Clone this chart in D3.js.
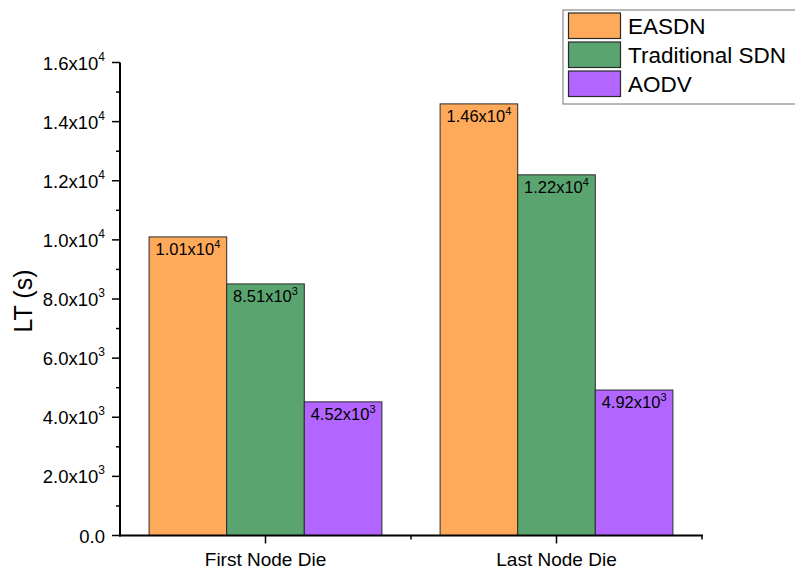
<!DOCTYPE html>
<html>
<head>
<meta charset="utf-8">
<script src="https://cdn.jsdelivr.net/npm/d3@7"></script>
<style>
  body { margin: 0; background: #fff; }
  svg { display: block; font-family: "Liberation Sans", Arial, sans-serif; }
</style>
</head>
<body>
<svg id="chart" width="795" height="570"></svg>
<script>
const categories = ["First Node Die", "Last Node Die"];
const seriesNames = ["EASDN", "Traditional SDN", "AODV"];
const seriesColors = ["#FFAA5A", "#5AA470", "#B266FF"];
const easdn = [10100, 14600];
const traditionalSdn = [8510, 12200];
const aodv = [4520, 4920];
const barLabels = [
  [["1.01x10", "4"], ["1.46x10", "4"]],
  [["8.51x10", "3"], ["1.22x10", "4"]],
  [["4.52x10", "3"], ["4.92x10", "3"]]
];
const yTickValues = [0, 2000, 4000, 6000, 8000, 10000, 12000, 14000, 16000];
const yTickLabels = [["0.0", ""], ["2.0x10", "3"], ["4.0x10", "3"], ["6.0x10", "3"], ["8.0x10", "3"],
  ["1.0x10", "4"], ["1.2x10", "4"], ["1.4x10", "4"], ["1.6x10", "4"]];
const yMinorTicks = [1000, 3000, 5000, 7000, 9000, 11000, 13000, 15000];
const yTitle = "LT (s)";

(function () {
const series = [easdn, traditionalSdn, aodv];
const svg = d3.select("#chart");
const pL = 120, pR = 702, pT = 62.5, pB = 535.5;

const y = d3.scaleLinear().domain([0, 16000]).range([pB, pT]);
const x0 = d3.scaleBand().domain(categories).range([pL, pR]).paddingInner(0.2).paddingOuter(0.1);
const x1 = d3.scaleBand().domain(seriesNames).range([0, x0.bandwidth()]);

// bars
categories.forEach((cat, ci) => {
  const g = svg.append("g");
  seriesNames.forEach((s, si) => {
    const v = series[si][ci];
    const bx = x0(cat) + x1(s);
    g.append("rect")
      .attr("x", bx).attr("y", y(v))
      .attr("width", x1.bandwidth()).attr("height", y(0) - y(v))
      .attr("fill", seriesColors[si]).attr("stroke", "#2a2a2a").attr("stroke-width", 1);
    const t = g.append("text")
      .attr("x", bx + x1.bandwidth() / 2).attr("y", y(v) + 18)
      .attr("text-anchor", "middle").attr("font-size", 16.5).attr("fill", "#000");
    t.append("tspan").text(barLabels[si][ci][0]);
    t.append("tspan").attr("dy", -7).attr("font-size", 11).text(barLabels[si][ci][1]);
  });
});

// y axis
const yAxis = svg.append("g");
yAxis.append("line").attr("x1", pL).attr("x2", pL).attr("y1", pT).attr("y2", pB + 1)
  .attr("stroke", "#000").attr("stroke-width", 2);
yTickValues.forEach((v, i) => {
  yAxis.append("line").attr("x1", pL - 8).attr("x2", pL).attr("y1", y(v)).attr("y2", y(v))
    .attr("stroke", "#000").attr("stroke-width", 1.5);
  const t = yAxis.append("text").attr("x", 105).attr("y", y(v) + 7)
    .attr("text-anchor", "end").attr("font-size", 18.5).attr("fill", "#000");
  t.append("tspan").text(yTickLabels[i][0]);
  if (yTickLabels[i][1]) t.append("tspan").attr("dy", -9).attr("font-size", 12).text(yTickLabels[i][1]);
});
yMinorTicks.forEach(v => {
  yAxis.append("line").attr("x1", pL - 4).attr("x2", pL).attr("y1", y(v)).attr("y2", y(v))
    .attr("stroke", "#000").attr("stroke-width", 1.5);
});
svg.append("text").attr("transform", `translate(32,${(pT + pB) / 2 + 2}) rotate(-90)`)
  .attr("text-anchor", "middle").attr("font-size", 25).attr("fill", "#000").text(yTitle);

// x axis
const xAxis = svg.append("g");
xAxis.append("line").attr("x1", pL - 1).attr("x2", pR + 1).attr("y1", pB).attr("y2", pB)
  .attr("stroke", "#000").attr("stroke-width", 2);
categories.forEach(cat => {
  const cx = x0(cat) + x0.bandwidth() / 2;
  xAxis.append("line").attr("x1", cx).attr("x2", cx).attr("y1", pB).attr("y2", pB + 8)
    .attr("stroke", "#000").attr("stroke-width", 1.5);
  xAxis.append("text").attr("x", cx).attr("y", 566).attr("text-anchor", "middle")
    .attr("font-size", 19).attr("fill", "#000").text(cat);
});
const mid = (x0(categories[0]) + x0.bandwidth() / 2 + x0(categories[1]) + x0.bandwidth() / 2) / 2;
[mid, pR].forEach(mx => {
  xAxis.append("line").attr("x1", mx).attr("x2", mx).attr("y1", pB).attr("y2", pB + 4)
    .attr("stroke", "#000").attr("stroke-width", 1.5);
});

// legend
const legend = svg.append("g");
legend.append("rect").attr("x", 563).attr("y", 10).attr("width", 240).attr("height", 94)
  .attr("fill", "#fff").attr("stroke", "#8a8a8a").attr("stroke-width", 1.2);
seriesNames.forEach((s, i) => {
  const ry = 13 + i * 29;
  legend.append("rect").attr("x", 568.5).attr("y", ry).attr("width", 52).attr("height", 25.5)
    .attr("fill", seriesColors[i]).attr("stroke", "#2a2a2a").attr("stroke-width", 1.2);
  legend.append("text").attr("x", 628).attr("y", ry + 21).attr("font-size", 22.5)
    .attr("fill", "#000").text(s);
});
})();
</script>
</body>
</html>
